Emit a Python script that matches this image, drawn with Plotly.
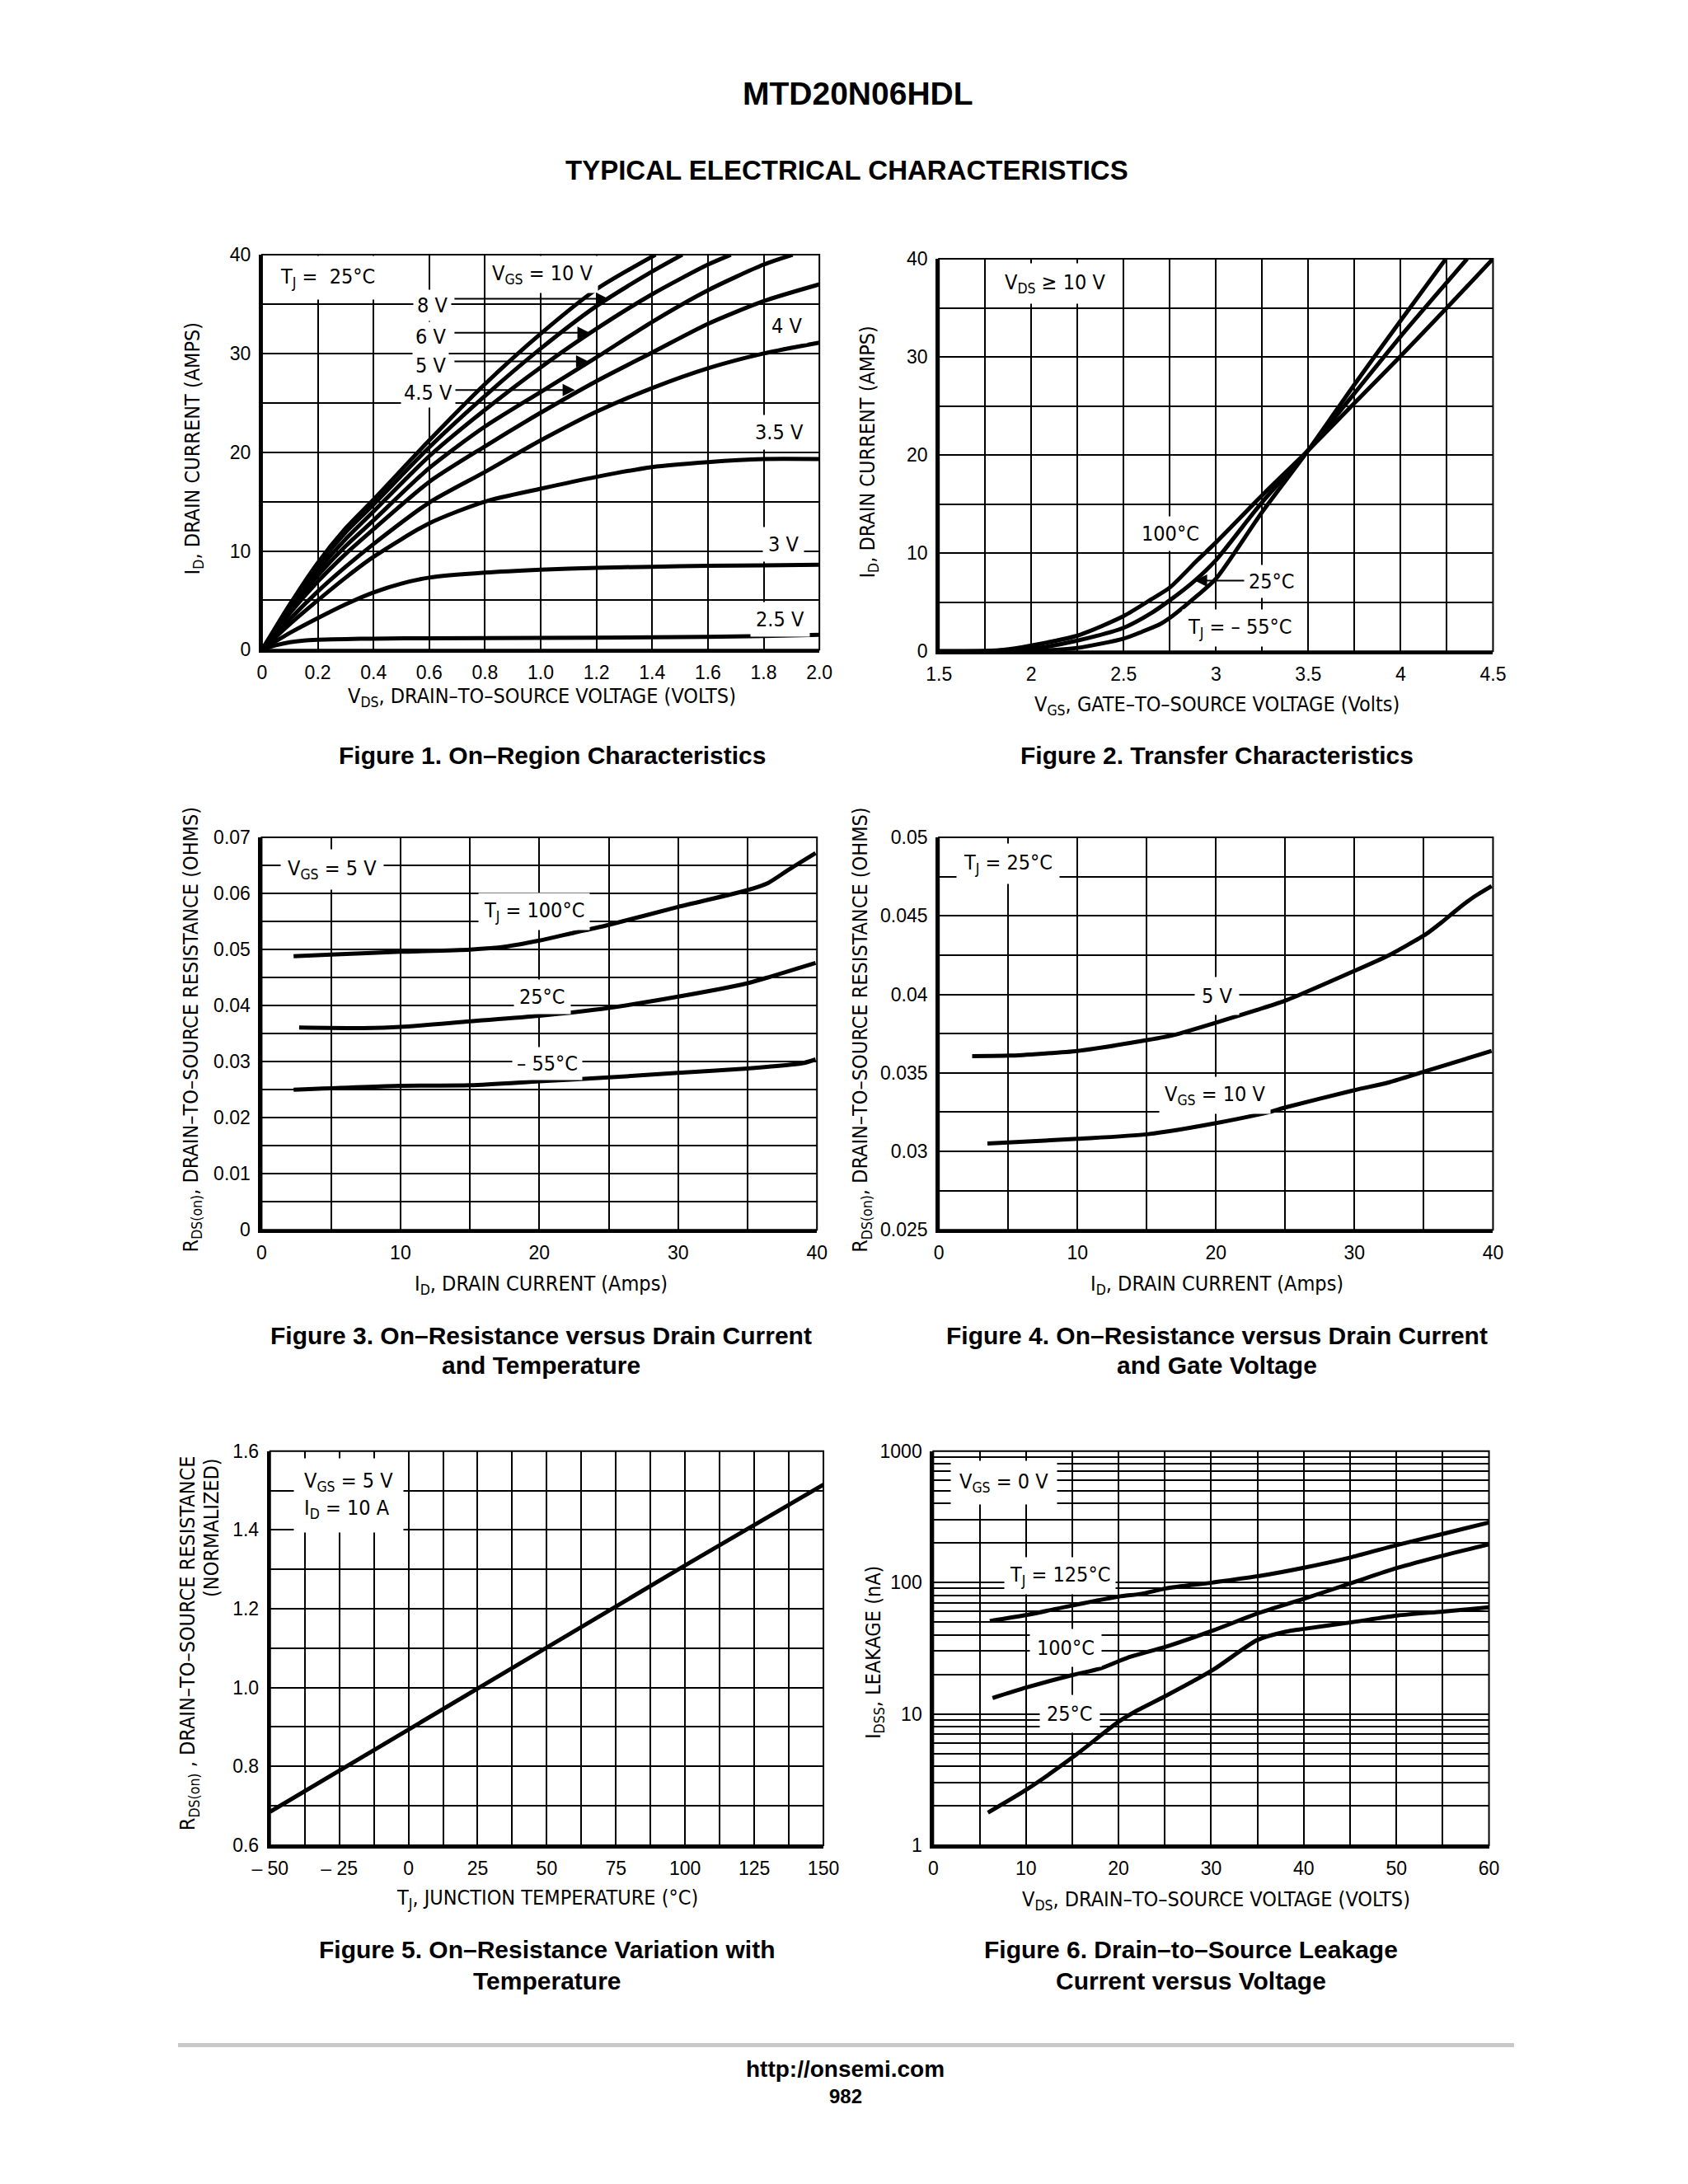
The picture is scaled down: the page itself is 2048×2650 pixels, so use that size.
import plotly.graph_objects as go

# ---------------- DATA ----------------
# Figure 1: On-region characteristics (VDS volts -> ID amps)
f1_x_10v = [0, 0.1, 0.2, 0.3, 0.4, 0.6, 0.8, 1.0, 1.2, 1.412]
f1_y_10v = [0, 4.6, 8.8, 12.3, 15.2, 21.2, 26.9, 32.0, 36.5, 40.0]
f1_x_8v = [0, 0.1, 0.2, 0.3, 0.4, 0.6, 0.8, 1.0, 1.2, 1.4, 1.508]
f1_y_8v = [0, 4.4, 8.5, 11.9, 14.7, 20.5, 25.7, 30.5, 34.8, 38.3, 40.0]
f1_x_6v = [0, 0.1, 0.2, 0.3, 0.4, 0.6, 0.8, 1.0, 1.2, 1.4, 1.6, 1.682]
f1_y_6v = [0, 4.2, 8.0, 11.2, 14.0, 19.6, 24.3, 28.6, 32.5, 36.0, 39.0, 40.0]
f1_x_5v = [0, 0.1, 0.2, 0.3, 0.4, 0.6, 0.8, 1.0, 1.2, 1.4, 1.6, 1.8, 1.904]
f1_y_5v = [0, 4.0, 7.5, 10.5, 13.1, 18.4, 22.6, 26.1, 29.6, 33.2, 36.4, 39.0, 40.0]
f1_x_full = [0, 0.1, 0.2, 0.3, 0.4, 0.6, 0.8, 1.0, 1.2, 1.4, 1.6, 1.8, 2.0]
f1_y_45v = [0, 3.7, 6.9, 9.7, 12.2, 17.0, 20.6, 24.0, 27.2, 30.1, 33.0, 35.3, 37.0]
f1_y_4v = [0, 3.1, 5.9, 8.4, 10.7, 14.9, 18.0, 21.2, 24.1, 26.5, 28.5, 30.0, 31.1]
f1_y_35v = [0, 2.6, 5.0, 7.3, 9.4, 12.8, 15.0, 16.3, 17.5, 18.5, 19.0, 19.3, 19.3]
f1_x_3v = [0, 0.1, 0.2, 0.3, 0.4, 0.5, 0.6, 0.8, 1.0, 1.2, 1.4, 1.6, 1.8, 2.0]
f1_y_3v = [0, 1.7, 3.2, 4.6, 5.8, 6.7, 7.3, 7.8, 8.1, 8.3, 8.4, 8.5, 8.55, 8.6]
f1_x_25v = [0, 0.05, 0.1, 0.15, 0.2, 0.3, 0.4, 0.6, 1.0, 1.4, 1.8, 2.0]
f1_y_25v = [0, 0.45, 0.75, 0.92, 1.0, 1.08, 1.12, 1.16, 1.2, 1.25, 1.38, 1.5]

# Figure 2: Transfer characteristics (VGS volts -> ID amps)
f2_x_100 = [1.5, 1.75, 1.85, 2.0, 2.25, 2.5, 2.65, 2.75, 2.9, 3.0, 3.25, 3.5, 3.75, 4.0, 4.25, 4.5]
f2_y_100 = [0, 0.05, 0.15, 0.6, 1.6, 3.6, 5.3, 6.5, 9.3, 11.1, 15.9, 20.5, 25.3, 30.1, 35.0, 40.0]
f2_x_25 = [1.5, 1.8, 2.0, 2.25, 2.5, 2.65, 2.75, 2.885, 3.0, 3.25, 3.5, 3.75, 4.0, 4.25, 4.36]
f2_y_25 = [0, 0.02, 0.25, 1.1, 2.4, 3.9, 5.2, 7.2, 9.3, 15.2, 20.5, 26.3, 32.1, 37.6, 40.0]
f2_x_m55 = [1.5, 2.0, 2.25, 2.5, 2.6, 2.7, 2.75, 2.9, 3.0, 3.25, 3.5, 3.75, 4.0, 4.245]
f2_y_m55 = [0, 0.05, 0.35, 1.3, 2.0, 2.8, 3.4, 5.7, 7.4, 14.2, 20.5, 27.2, 33.7, 40.0]

# Figure 3: RDS(on) vs ID and temperature (amps -> ohms)
f3_x_100 = [2.3, 5, 10, 15, 17.5, 20, 22.5, 25, 30, 35, 36.5, 38, 39.9]
f3_y_100 = [0.0488, 0.0491, 0.0496, 0.0500, 0.0505, 0.0516, 0.0530, 0.0544, 0.0576, 0.0606, 0.0619, 0.0643, 0.0672]
f3_x_25 = [2.7, 7.3, 10, 15, 20, 25, 30, 35, 36.7, 39.9]
f3_y_25 = [0.0361, 0.0360, 0.0362, 0.0372, 0.0382, 0.0396, 0.0416, 0.0440, 0.0452, 0.0476]
f3_x_m55 = [2.3, 10, 15, 20, 25, 30, 35, 38.9, 39.9]
f3_y_m55 = [0.0250, 0.0257, 0.0258, 0.0265, 0.0272, 0.0280, 0.0288, 0.0297, 0.0304]

# Figure 4: RDS(on) vs ID and gate voltage
f4_x_5v = [2.4, 5.1, 10, 15.1, 16.9, 20, 25, 30, 32.5, 35.1, 36.3, 37.4, 38.6, 39.9]
f4_y_5v = [0.03607, 0.0361, 0.0364, 0.0371, 0.0374, 0.0382, 0.0396, 0.0415, 0.0425, 0.0438, 0.0446, 0.0454, 0.0462, 0.0469]
f4_x_10v = [3.5, 10, 15.1, 20, 23.8, 25, 30, 32.5, 35.1, 39.9]
f4_y_10v = [0.0305, 0.0308, 0.0311, 0.0318, 0.0325, 0.0328, 0.0339, 0.0344, 0.0351, 0.0364]

# Figure 5: normalized RDS(on) vs junction temperature
f5_tj = [-50, 0, 50, 100, 150]
f5_rn = [0.685, 0.893, 1.104, 1.31, 1.515]

# Figure 6: IDSS leakage vs VDS (volts -> nA)
f6_x_125 = [6.1, 10.1, 15.1, 20, 22.5, 25.1, 30.2, 35.2, 39.9, 45.2, 50.1, 55, 60]
f6_y_125 = [50.9, 56.6, 67, 78, 82, 90, 100, 112, 129, 156, 193, 234, 286]
f6_x_100 = [6.4, 10.1, 15.1, 18, 21, 25.1, 30.2, 35.2, 39.9, 45.2, 50.1, 55, 60]
f6_y_100 = [13.2, 15.9, 19.8, 22.1, 26.8, 32.4, 43.1, 58.7, 74.6, 99.3, 129, 160, 195]
f6_x_25 = [5.9, 10.1, 15.1, 20, 22, 25.1, 30.2, 35, 38, 39.9, 45.2, 50.1, 55, 60]
f6_y_25 = [1.77, 2.66, 4.7, 8.7, 10.6, 13.7, 21.6, 36.5, 42.1, 44.2, 49.8, 56, 60, 64.6]

# Tick values / labels (labelled ticks) and grid positions
t1x_vals = [0, 0.2, 0.4, 0.6, 0.8, 1.0, 1.2, 1.4, 1.6, 1.8, 2.0]
t1x_text = ["0", "0.2", "0.4", "0.6", "0.8", "1.0", "1.2", "1.4", "1.6", "1.8", "2.0"]
g1x = t1x_vals
t40_vals = [0, 10, 20, 30, 40]
t40_text = ["0", "10", "20", "30", "40"]
g40 = [0, 5, 10, 15, 20, 25, 30, 35, 40]
t2x_vals = [1.5, 2.0, 2.5, 3.0, 3.5, 4.0, 4.5]
t2x_text = ["1.5", "2", "2.5", "3", "3.5", "4", "4.5"]
g2x = [1.5, 1.75, 2.0, 2.25, 2.5, 2.75, 3.0, 3.25, 3.5, 3.75, 4.0, 4.25, 4.5]
t34x_vals = [0, 10, 20, 30, 40]
t34x_text = ["0", "10", "20", "30", "40"]
g34x = [0, 5, 10, 15, 20, 25, 30, 35, 40]
t3y_vals = [0, 0.01, 0.02, 0.03, 0.04, 0.05, 0.06, 0.07]
t3y_text = ["0", "0.01", "0.02", "0.03", "0.04", "0.05", "0.06", "0.07"]
g3y = [0, 0.005, 0.01, 0.015, 0.02, 0.025, 0.03, 0.035, 0.04, 0.045, 0.05, 0.055, 0.06, 0.065, 0.07]
t4y_vals = [0.025, 0.03, 0.035, 0.04, 0.045, 0.05]
t4y_text = ["0.025", "0.03", "0.035", "0.04", "0.045", "0.05"]
g4y = [0.025, 0.0275, 0.03, 0.0325, 0.035, 0.0375, 0.04, 0.0425, 0.045, 0.0475, 0.05]
t5x_vals = [-50, -25, 0, 25, 50, 75, 100, 125, 150]
t5x_text = ["\u2013 50", "\u2013 25", "0", "25", "50", "75", "100", "125", "150"]
g5x = [-50, -37.5, -25, -12.5, 0, 12.5, 25, 37.5, 50, 62.5, 75, 87.5, 100, 112.5, 125, 137.5, 150]
t5y_vals = [0.6, 0.8, 1.0, 1.2, 1.4, 1.6]
t5y_text = ["0.6", "0.8", "1.0", "1.2", "1.4", "1.6"]
g5y = [0.6, 0.7, 0.8, 0.9, 1.0, 1.1, 1.2, 1.3, 1.4, 1.5, 1.6]
t6x_vals = [0, 10, 20, 30, 40, 50, 60]
t6x_text = ["0", "10", "20", "30", "40", "50", "60"]
g6x = [0, 5, 10, 15, 20, 25, 30, 35, 40, 45, 50, 55, 60]
t6y_vals = [1, 10, 100, 1000]
t6y_text = ["1", "10", "100", "1000"]
g6y = [1, 2, 3, 4, 5, 6, 7, 8, 9, 10, 20, 30, 40, 50, 60, 70, 80, 90,
       100, 200, 300, 400, 500, 600, 700, 800, 900, 1000]

# ---------------- STYLE ----------------
W, H = 2048, 2650
SANS = "Liberation Sans, Arial, Helvetica, sans-serif"
NARROW = "DejaVu Sans Condensed, Liberation Sans Narrow, Arial Narrow, sans-serif"
LW = 5

# plot-area pixel boxes (left, right, top, bottom)
boxes = {
    1: (302, 992, 299, 783),
    2: (1140, 1826, 304, 785),
    3: (301.5, 989, 1013, 1494),
    4: (1140, 1826, 1013, 1494),
    5: (312, 997, 1765, 2248),
    6: (1133, 1821, 1765, 2248),
}

fig = go.Figure()


def add_curve(n, xs, ys, shape="spline", smoothing=0.7):
    sfx = "" if n == 1 else str(n)
    fig.add_trace(go.Scatter(x=xs, y=ys, mode="lines", xaxis="x" + sfx, yaxis="y" + sfx,
                             line=dict(color="black", width=LW, shape=shape, smoothing=smoothing),
                             showlegend=False, hoverinfo="skip"))


add_curve(1, f1_x_10v, f1_y_10v)
add_curve(1, f1_x_8v, f1_y_8v)
add_curve(1, f1_x_6v, f1_y_6v)
add_curve(1, f1_x_5v, f1_y_5v)
add_curve(1, f1_x_full, f1_y_45v)
add_curve(1, f1_x_full, f1_y_4v)
add_curve(1, f1_x_full, f1_y_35v)
add_curve(1, f1_x_3v, f1_y_3v)
add_curve(1, f1_x_25v, f1_y_25v)

add_curve(2, f2_x_100, f2_y_100)
add_curve(2, f2_x_25, f2_y_25)
add_curve(2, f2_x_m55, f2_y_m55)

add_curve(3, f3_x_100, f3_y_100)
add_curve(3, f3_x_25, f3_y_25)
add_curve(3, f3_x_m55, f3_y_m55)

add_curve(4, f4_x_5v, f4_y_5v, smoothing=0.5)
add_curve(4, f4_x_10v, f4_y_10v)

add_curve(5, f5_tj, f5_rn, shape="linear")

add_curve(6, f6_x_125, f6_y_125)
add_curve(6, f6_x_100, f6_y_100)
add_curve(6, f6_x_25, f6_y_25)

axis_specs = {
    1: dict(xr=[0, 2], xv=t1x_vals, xt=t1x_text, xg=g1x, yr=[0, 40], yv=t40_vals, yt=t40_text, yg=g40),
    2: dict(xr=[1.5, 4.5], xv=t2x_vals, xt=t2x_text, xg=g2x, yr=[0, 40], yv=t40_vals, yt=t40_text, yg=g40),
    3: dict(xr=[0, 40], xv=t34x_vals, xt=t34x_text, xg=g34x, yr=[0, 0.07], yv=t3y_vals, yt=t3y_text, yg=g3y),
    4: dict(xr=[0, 40], xv=t34x_vals, xt=t34x_text, xg=g34x, yr=[0.025, 0.05], yv=t4y_vals, yt=t4y_text, yg=g4y),
    5: dict(xr=[-50, 150], xv=t5x_vals, xt=t5x_text, xg=g5x, yr=[0.6, 1.6], yv=t5y_vals, yt=t5y_text, yg=g5y),
    6: dict(xr=[0, 60], xv=t6x_vals, xt=t6x_text, xg=g6x, yr=[0, 3], yv=t6y_vals, yt=t6y_text, yg=g6y, ylog=True),
}

layout = dict(width=W, height=H, margin=dict(l=0, r=0, t=0, b=0),
              paper_bgcolor="white", plot_bgcolor="white", showlegend=False)
shapes = []
for n, sp in axis_specs.items():
    l, r, t, b = boxes[n]
    sfx = "" if n == 1 else str(n)
    common = dict(showgrid=True, gridcolor="black", gridwidth=2, showline=True,
                  linecolor="black", linewidth=4, ticks="", zeroline=False,
                  tickmode="array", fixedrange=True,
                  tickfont=dict(family=SANS, size=23, color="black"))
    layout["xaxis" + sfx] = dict(domain=[l / W, r / W], range=sp["xr"], anchor="y" + sfx,
                                 tickvals=sp["xv"], ticktext=sp["xt"], ticklabelstandoff=4,
                                 minor=dict(tickmode="array", tickvals=sp["xg"], showgrid=True,
                                            gridcolor="black", gridwidth=2, ticks=""),
                                 **common)
    ya = dict(domain=[1 - b / H, 1 - t / H], range=sp["yr"], anchor="x" + sfx,
              tickvals=sp["yv"], ticktext=sp["yt"], ticklabelstandoff=5,
              minor=dict(tickmode="array", tickvals=sp["yg"], showgrid=True,
                         gridcolor="black", gridwidth=2, ticks=""),
              **common)
    if sp.get("ylog"):
        ya["type"] = "log"
    layout["yaxis" + sfx] = ya
    shapes.append(dict(type="rect", xref="x" + sfx + " domain", yref="y" + sfx + " domain",
                       x0=0, x1=1, y0=0, y1=1, line=dict(color="black", width=2), layer="above"))

# footer rule
shapes.append(dict(type="line", xref="paper", yref="paper", x0=198 / W, x1=1852 / W,
                   y0=1 - 2493 / H, y1=1 - 2493 / H, line=dict(color="#c8c8c8", width=5)))
layout["shapes"] = shapes

ann = []


def ptxt(px, py, text, size, bold=False, family=SANS, angle=0):
    if bold:
        text = "<b>" + text + "</b>"
    ann.append(dict(x=px / W, y=1 - py / H, xref="paper", yref="paper", text=text,
                    showarrow=False, xanchor="center", yanchor="middle", textangle=angle,
                    font=dict(family=family, size=size, color="black")))


def lbl(n, x, y, text, pad=6, **kw):
    sfx = "" if n == 1 else str(n)
    d = dict(x=x, y=y, xref="x" + sfx, yref="y" + sfx, text=text, showarrow=False,
             font=dict(family=NARROW, size=25, color="black"), bgcolor="white", borderpad=pad)
    d.update(kw)
    ann.append(d)


def arrow(n, x0, y0, x1, y1):
    sfx = "" if n == 1 else str(n)
    ann.append(dict(x=x1, y=y1, ax=x0, ay=y0, xref="x" + sfx, yref="y" + sfx,
                    axref="x" + sfx, ayref="y" + sfx, text="", showarrow=True,
                    arrowhead=2, arrowsize=1.5, arrowwidth=2, arrowcolor="black", standoff=0))


# page titles
ptxt(1040, 102, "MTD20N06HDL", 39, bold=True)
ptxt(1026, 195, "TYPICAL ELECTRICAL CHARACTERISTICS", 33, bold=True)

# captions
ptxt(661, 912, "Figure 1. On\u2013Region Characteristics", 30, bold=True)
ptxt(1484, 912, "Figure 2. Transfer Characteristics", 30, bold=True)
ptxt(647, 1623, "Figure 3. On\u2013Resistance versus Drain Current", 30, bold=True)
ptxt(647, 1660, "and Temperature", 30, bold=True)
ptxt(1484, 1623, "Figure 4. On\u2013Resistance versus Drain Current", 30, bold=True)
ptxt(1484, 1660, "and Gate Voltage", 30, bold=True)
ptxt(655, 2376, "Figure 5. On\u2013Resistance Variation with", 30, bold=True)
ptxt(655, 2414, "Temperature", 30, bold=True)
ptxt(1452, 2376, "Figure 6. Drain\u2013to\u2013Source Leakage", 30, bold=True)
ptxt(1452, 2414, "Current versus Voltage", 30, bold=True)

# footer
ptxt(1024, 2522, "http://onsemi.com", 28, bold=True)
ptxt(1024, 2556, "982", 24, bold=True)

# axis titles
ptxt(648, 841, "V<sub>DS</sub>, DRAIN\u2013TO\u2013SOURCE VOLTAGE (VOLTS)", 25, family=NARROW)
ptxt(1484, 851, "V<sub>GS</sub>, GATE\u2013TO\u2013SOURCE VOLTAGE (Volts)", 25, family=NARROW)
ptxt(647, 1561, "I<sub>D</sub>, DRAIN CURRENT (Amps)", 25, family=NARROW)
ptxt(1484, 1561, "I<sub>D</sub>, DRAIN CURRENT (Amps)", 25, family=NARROW)
ptxt(655, 2314, "T<sub>J</sub>, JUNCTION TEMPERATURE (\u00b0C)", 25, family=NARROW)
ptxt(1483, 2316, "V<sub>DS</sub>, DRAIN\u2013TO\u2013SOURCE VOLTAGE (VOLTS)", 25, family=NARROW)

ptxt(217, 536, "I<sub>D</sub>, DRAIN CURRENT (AMPS)", 25, family=NARROW, angle=-90)
ptxt(1053, 540, "I<sub>D</sub>, DRAIN CURRENT (AMPS)", 25, family=NARROW, angle=-90)
ptxt(215, 1249, "R<sub>DS(on)</sub>, DRAIN\u2013TO\u2013SOURCE RESISTANCE (OHMS)", 25, family=NARROW, angle=-90)
ptxt(1044, 1249, "R<sub>DS(on)</sub>, DRAIN\u2013TO\u2013SOURCE RESISTANCE (OHMS)", 25, family=NARROW, angle=-90)
ptxt(212, 2000, "R<sub>DS(on)</sub> , DRAIN\u2013TO\u2013SOURCE RESISTANCE", 25, family=NARROW, angle=-90)
ptxt(240, 1859, "(NORMALIZED)", 25, family=NARROW, angle=-90)
ptxt(1060, 2012, "I<sub>DSS</sub>, LEAKAGE (nA)", 25, family=NARROW, angle=-90)

# Figure 1 labels
lbl(1, 0.236, 37.65, "T<sub>J</sub> =  25\u00b0C", pad=10)
lbl(1, 1.007, 38.0, "V<sub>GS</sub> = 10 V", pad=6)
arrow(1, 0.686, 35.55, 1.243, 35.55)
arrow(1, 0.686, 32.1, 1.176, 32.1)
arrow(1, 0.686, 29.2, 1.171, 29.2)
arrow(1, 0.686, 26.3, 1.123, 26.3)
lbl(1, 0.61, 34.9, "8 V", pad=4)
lbl(1, 0.604, 31.7, "6 V", pad=3)
lbl(1, 0.606, 28.8, "5 V", pad=3)
lbl(1, 0.597, 26.0, "4.5 V", pad=3)
lbl(1, 1.884, 32.8, "4 V", pad=6)
lbl(1, 1.855, 22.0, "3.5 V", pad=6)
lbl(1, 1.87, 10.7, "3 V", pad=6)
lbl(1, 1.86, 3.1, "2.5 V", pad=6)

# Figure 2 labels
lbl(2, 2.128, 37.5, "V<sub>DS</sub> \u2265 10 V", pad=8)
lbl(2, 2.754, 12.0, "100\u00b0C", pad=6)
arrow(2, 3.17, 7.2, 2.885, 7.2)
lbl(2, 3.30, 7.1, "25\u00b0C", pad=5)
lbl(2, 3.13, 2.4, "T<sub>J</sub> = \u2013 55\u00b0C", pad=6)

# Figure 3 labels
lbl(3, 5.1, 0.0643, "V<sub>GS</sub> = 5 V", pad=8)
lbl(3, 19.6, 0.0568, "T<sub>J</sub> = 100\u00b0C", pad=6)
lbl(3, 20.2, 0.0416, "25\u00b0C", pad=6)
lbl(3, 20.6, 0.0297, "\u2013 55\u00b0C", pad=5)

# Figure 4 labels
lbl(4, 4.96, 0.0483, "T<sub>J</sub> = 25\u00b0C", pad=8)
lbl(4, 20.1, 0.0399, "5 V", pad=8)
lbl(4, 19.9, 0.0336, "V<sub>GS</sub> = 10 V", pad=6)

# Figure 5 label
lbl(5, -41.5, 1.487, "V<sub>GS</sub> = 5 V<br>I<sub>D</sub> = 10 A", pad=12, xanchor="left", align="left")

# Figure 6 labels (log axis -> log10 coordinates)
lbl(6, 7.6, 2.762, "V<sub>GS</sub> = 0 V", pad=10)
lbl(6, 13.7, 2.048, "T<sub>J</sub> = 125\u00b0C", pad=6)
lbl(6, 14.3, 1.5, "100\u00b0C", pad=8)
lbl(6, 14.7, 1.003, "25\u00b0C", pad=8)

layout["annotations"] = ann
fig.update_layout(**layout)
fig.write_html("out.html",
               config={"displayModeBar": False, "staticPlot": True},
               post_script="document.body.style.margin='0px';document.body.style.overflow='hidden';")
